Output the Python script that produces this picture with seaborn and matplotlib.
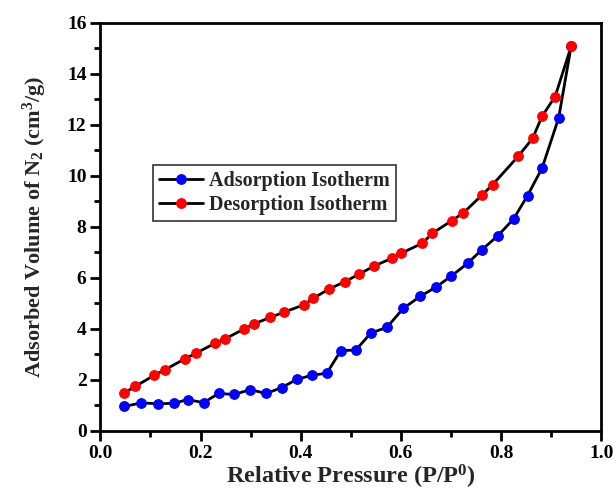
import matplotlib
matplotlib.use("Agg")
import matplotlib.pyplot as plt
import seaborn as sns
import pandas as pd
from matplotlib.ticker import MultipleLocator, FormatStrFormatter

# Adsorption branch (P/P0, volume cm3/g)
adsP = [0.048, 0.081, 0.114, 0.146, 0.174, 0.206, 0.236, 0.267, 0.299, 0.331,
        0.362, 0.392, 0.423, 0.452, 0.480, 0.510, 0.540, 0.572, 0.605, 0.639,
        0.670, 0.700, 0.733, 0.762, 0.793, 0.825, 0.853, 0.882, 0.915, 0.940]
adsV = [0.95, 1.09, 1.06, 1.07, 1.22, 1.10, 1.46, 1.42, 1.61, 1.46,
        1.69, 2.01, 2.18, 2.25, 3.14, 3.16, 3.83, 4.05, 4.80, 5.27,
        5.63, 6.05, 6.56, 7.10, 7.63, 8.30, 9.22, 10.30, 12.26, 15.07]

# Desorption branch
desP = [0.940, 0.908, 0.882, 0.863, 0.834, 0.783, 0.762, 0.725, 0.702, 0.663,
        0.643, 0.600, 0.583, 0.547, 0.517, 0.488, 0.457, 0.425, 0.407, 0.367,
        0.339, 0.306, 0.287, 0.248, 0.228, 0.190, 0.168, 0.128, 0.108, 0.070, 0.048]
desV = [15.07, 13.10, 12.33, 11.46, 10.75, 9.64, 9.24, 8.54, 8.24, 7.74,
        7.35, 6.95, 6.77, 6.46, 6.14, 5.84, 5.56, 5.19, 4.94, 4.65,
        4.44, 4.18, 3.99, 3.59, 3.42, 3.03, 2.81, 2.38, 2.18, 1.74, 1.48]

df = pd.concat([
    pd.DataFrame({"P": adsP, "V": adsV, "branch": "Adsorption Isotherm"}),
    pd.DataFrame({"P": desP, "V": desV, "branch": "Desorption Isotherm"}),
])

sns.set_style("white", {"xtick.bottom": True, "ytick.left": True})
plt.rcParams["font.family"] = ["Liberation Serif", "DejaVu Serif"]
plt.rcParams["mathtext.fontset"] = "custom"
plt.rcParams["mathtext.rm"] = "Liberation Serif:bold"
plt.rcParams["mathtext.it"] = "Liberation Serif:bold"
plt.rcParams["mathtext.bf"] = "Liberation Serif:bold"

fig = plt.figure(figsize=(6.16, 4.90), dpi=100)
ax = fig.add_axes([0.163, 0.121, 0.813, 0.833])

colours = {"Adsorption Isotherm": "#0000ff", "Desorption Isotherm": "#ff0000"}
for name, sub in df.groupby("branch", sort=False):
    sns.lineplot(data=sub, x="P", y="V", ax=ax, sort=False, color="black",
                 linewidth=2, marker="o", markersize=7,
                 markerfacecolor=colours[name], markeredgecolor=colours[name],
                 label=name)

ax.set_xlim(0, 1.0)
ax.set_ylim(0, 16)
ax.xaxis.set_major_locator(MultipleLocator(0.2))
ax.xaxis.set_minor_locator(MultipleLocator(0.1))
ax.xaxis.set_major_formatter(FormatStrFormatter("%.1f"))
ax.yaxis.set_major_locator(MultipleLocator(2))
ax.yaxis.set_minor_locator(MultipleLocator(1))
ax.xaxis.set_ticks_position("bottom")
ax.yaxis.set_ticks_position("left")
ax.tick_params(axis="both", which="major", direction="out", length=7, width=2,
               color="black", labelcolor="black", labelsize=14, pad=3)
ax.tick_params(axis="both", which="minor", direction="out", length=4, width=2,
               color="black")
for lab in ax.get_xticklabels() + ax.get_yticklabels():
    lab.set_fontweight("bold")

for s in ax.spines.values():
    s.set_color("black")
    s.set_linewidth(2)

ax.set_xlabel("Relative Pressure (P/P$^{0}$)", fontsize=17.5, fontweight="bold", labelpad=1)
ax.set_ylabel("Adsorbed Volume of N$_2$ (cm$^3$/g)", fontsize=16, fontweight="bold", labelpad=13)

leg = ax.legend(loc="upper left", bbox_to_anchor=(0.085, 0.675), frameon=True,
                fancybox=False, edgecolor="black", prop={"weight": "bold", "size": 14.5},
                handlelength=2.2, borderpad=0.3, labelspacing=0.2, handletextpad=0.3)
leg.get_frame().set_linewidth(1.2)

fig.savefig("out.png", dpi=100)
